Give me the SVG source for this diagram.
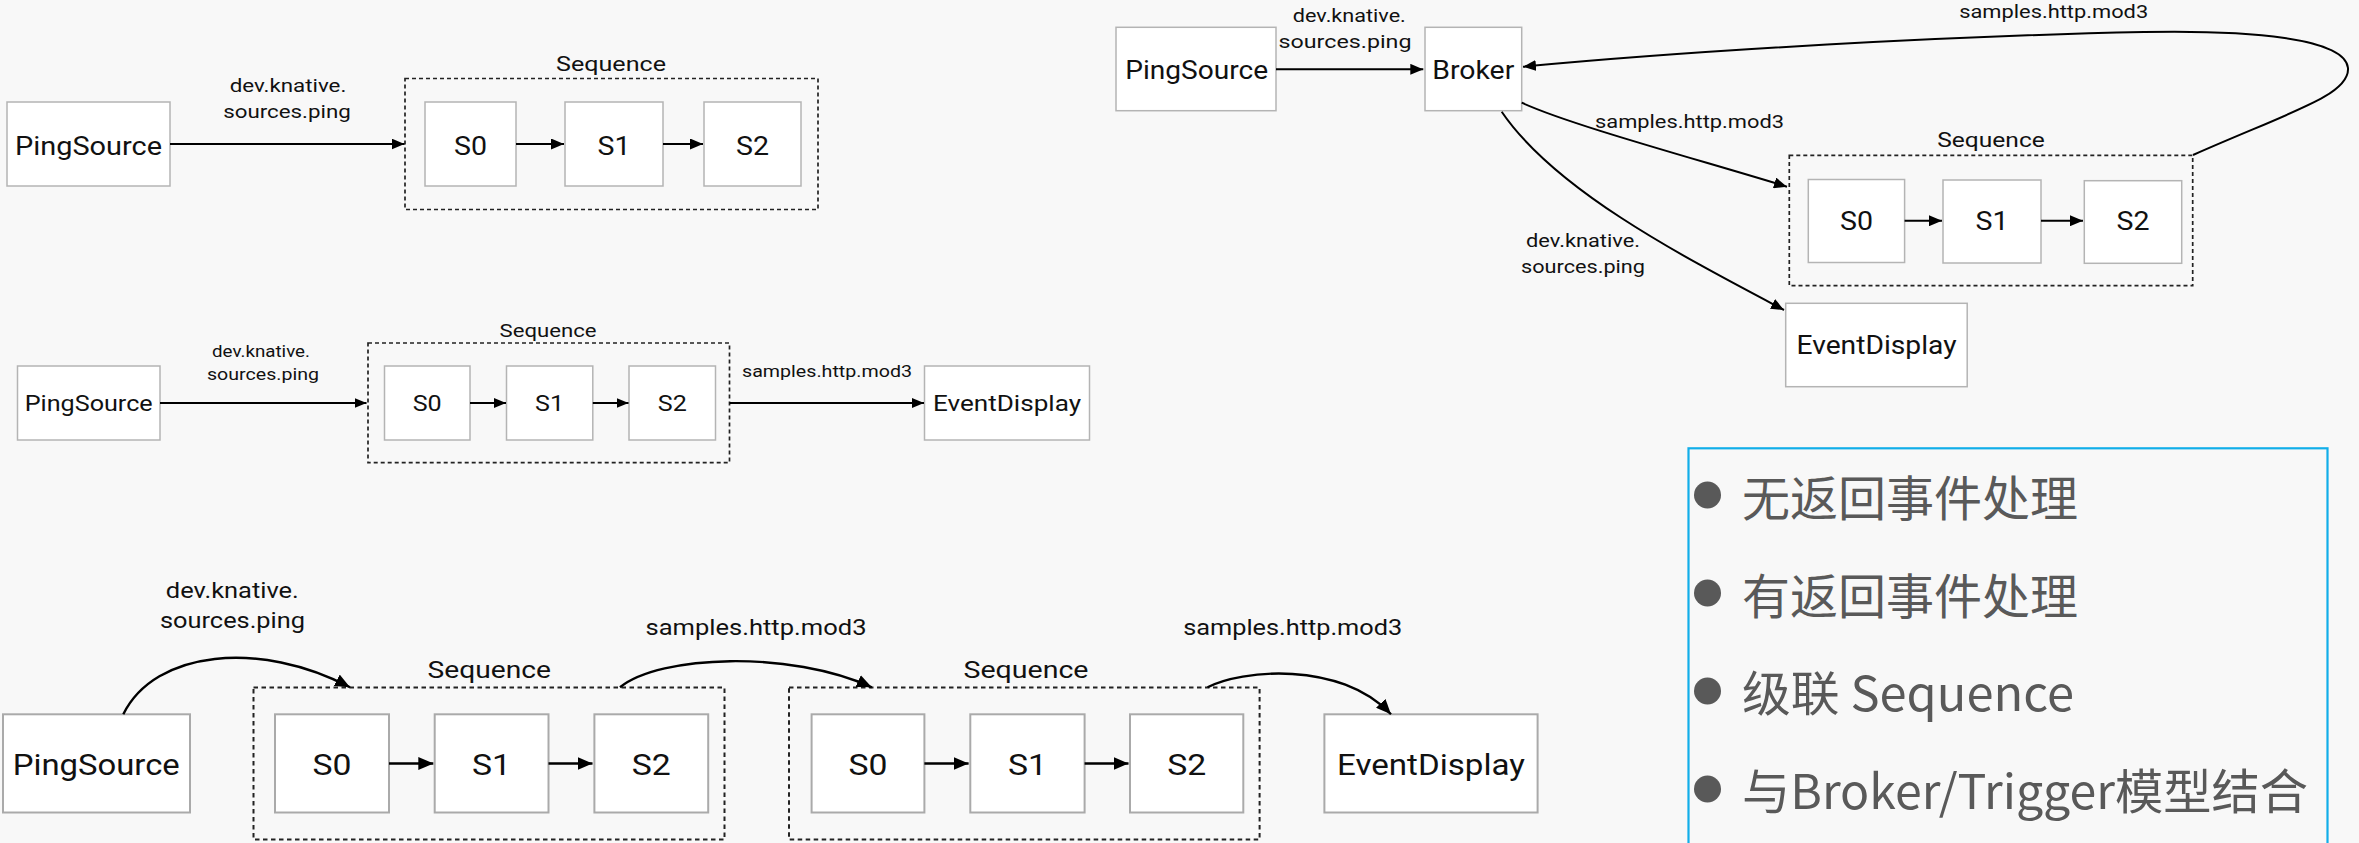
<svg xmlns="http://www.w3.org/2000/svg" width="2359" height="843" viewBox="0 0 2359 843">
<style>
.bg{fill:#f8f8f8}
.box{fill:#fff;stroke:#b4b4b4;stroke-width:1.5}
.box3{fill:#fff;stroke:#aaaaaa;stroke-width:2}
.seq{fill:none;stroke:#222;stroke-width:1.7;stroke-dasharray:4 3}
.seq3{fill:none;stroke:#222;stroke-width:2;stroke-dasharray:4.5 3.5}
.t{font-family:Roboto,"Liberation Sans",sans-serif;fill:#111;text-anchor:middle}
.c{fill:none;stroke:#000;stroke-width:2}
.c2{fill:none;stroke:#000;stroke-width:1.8}
.c3{fill:none;stroke:#000;stroke-width:2.4}
.cn{font-family:"Noto Sans CJK SC","Noto Sans",sans-serif;fill:#595959;font-size:48px}
</style>
<defs>
<marker id="mA" markerUnits="userSpaceOnUse" markerWidth="13" markerHeight="11" refX="13" refY="5.5" orient="auto"><path d="M0,0 L13,5.5 L0,11 z" fill="#000"/></marker>
<marker id="mB" markerUnits="userSpaceOnUse" markerWidth="12" markerHeight="10" refX="12" refY="5" orient="auto"><path d="M0,0 L12,5 L0,10 z" fill="#000"/></marker>
<marker id="mC" markerUnits="userSpaceOnUse" markerWidth="15" markerHeight="13" refX="15" refY="6.5" orient="auto"><path d="M0,0 L15,6.5 L0,13 z" fill="#000"/></marker>
</defs>
<rect class="bg" x="0" y="0" width="2359" height="843"/>

<!-- Diagram 1 -->
<g id="d1-ping"><rect class="box" x="7" y="102" width="163" height="84"/><text class="t" x="88.5" y="154.5" font-size="25" textLength="147" lengthAdjust="spacingAndGlyphs">PingSource</text></g>
<g id="d1-seq"><rect class="seq" x="405" y="78.5" width="413" height="131"/><text class="t" x="611" y="70.5" font-size="21" textLength="110" lengthAdjust="spacingAndGlyphs">Sequence</text></g>
<g id="d1-s0"><rect class="box" x="425" y="102" width="91" height="84"/><text class="t" x="470.5" y="154.5" font-size="25" textLength="33" lengthAdjust="spacingAndGlyphs">S0</text></g>
<g id="d1-s1"><rect class="box" x="565" y="102" width="98" height="84"/><text class="t" x="614" y="154.5" font-size="25" textLength="33" lengthAdjust="spacingAndGlyphs">S1</text></g>
<g id="d1-s2"><rect class="box" x="704" y="102" width="97" height="84"/><text class="t" x="752.5" y="154.5" font-size="25" textLength="33" lengthAdjust="spacingAndGlyphs">S2</text></g>

<!-- Diagram 2 -->
<g id="d2-ping"><rect class="box" x="17.5" y="366" width="142.5" height="74"/><text class="t" x="88.7" y="410.5" font-size="22" textLength="128" lengthAdjust="spacingAndGlyphs">PingSource</text></g>
<g id="d2-seq"><rect class="seq" x="368" y="343" width="361.5" height="119.7"/><text class="t" x="548" y="336.5" font-size="18.5" textLength="97" lengthAdjust="spacingAndGlyphs">Sequence</text></g>
<g id="d2-s0"><rect class="box" x="384.5" y="366" width="85.5" height="74"/><text class="t" x="427.2" y="410.5" font-size="22" textLength="29" lengthAdjust="spacingAndGlyphs">S0</text></g>
<g id="d2-s1"><rect class="box" x="506.5" y="366" width="86.3" height="74"/><text class="t" x="549.6" y="410.5" font-size="22" textLength="29" lengthAdjust="spacingAndGlyphs">S1</text></g>
<g id="d2-s2"><rect class="box" x="629" y="366" width="86.5" height="74"/><text class="t" x="672.3" y="410.5" font-size="22" textLength="29" lengthAdjust="spacingAndGlyphs">S2</text></g>
<g id="d2-ed"><rect class="box" x="924.5" y="366" width="165" height="74"/><text class="t" x="1007" y="410.5" font-size="22" textLength="148" lengthAdjust="spacingAndGlyphs">EventDisplay</text></g>

<!-- Diagram 3 -->
<g id="d3-ping"><rect class="box3" x="3" y="714.3" width="187" height="98.2"/><text class="t" x="96.3" y="775" font-size="29.5" textLength="167" lengthAdjust="spacingAndGlyphs">PingSource</text></g>
<g id="d3-seqA"><rect class="seq3" x="253.5" y="687.5" width="471" height="152"/><text class="t" x="489.3" y="678" font-size="24.5" textLength="123.5" lengthAdjust="spacingAndGlyphs">Sequence</text></g>
<g id="d3-a-s0"><rect class="box3" x="275" y="714.3" width="114" height="98.2"/><text class="t" x="332" y="775" font-size="29.5" textLength="39" lengthAdjust="spacingAndGlyphs">S0</text></g>
<g id="d3-a-s1"><rect class="box3" x="434.7" y="714.3" width="113.8" height="98.2"/><text class="t" x="491.6" y="775" font-size="29.5" textLength="39" lengthAdjust="spacingAndGlyphs">S1</text></g>
<g id="d3-a-s2"><rect class="box3" x="594.4" y="714.3" width="113.8" height="98.2"/><text class="t" x="651.3" y="775" font-size="29.5" textLength="39" lengthAdjust="spacingAndGlyphs">S2</text></g>
<g id="d3-seqB"><rect class="seq3" x="789" y="687.5" width="470.6" height="152"/><text class="t" x="1026" y="678" font-size="24.5" textLength="125" lengthAdjust="spacingAndGlyphs">Sequence</text></g>
<g id="d3-b-s0"><rect class="box3" x="811.6" y="714.3" width="112.8" height="98.2"/><text class="t" x="868" y="775" font-size="29.5" textLength="39" lengthAdjust="spacingAndGlyphs">S0</text></g>
<g id="d3-b-s1"><rect class="box3" x="970.3" y="714.3" width="114.3" height="98.2"/><text class="t" x="1027.5" y="775" font-size="29.5" textLength="39" lengthAdjust="spacingAndGlyphs">S1</text></g>
<g id="d3-b-s2"><rect class="box3" x="1130" y="714.3" width="113.3" height="98.2"/><text class="t" x="1186.7" y="775" font-size="29.5" textLength="39" lengthAdjust="spacingAndGlyphs">S2</text></g>
<g id="d3-ed"><rect class="box3" x="1324.4" y="714.3" width="213.2" height="98.2"/><text class="t" x="1431" y="775" font-size="29.5" textLength="188" lengthAdjust="spacingAndGlyphs">EventDisplay</text></g>

<!-- Diagram 4 -->
<g id="d4-ping"><rect class="box" x="1116" y="27.3" width="160" height="83.4"/><text class="t" x="1196.7" y="79.3" font-size="25" textLength="143" lengthAdjust="spacingAndGlyphs">PingSource</text></g>
<g id="d4-broker"><rect class="box" x="1425" y="27.3" width="96.7" height="83.4"/><text class="t" x="1473.3" y="79.3" font-size="25" textLength="82" lengthAdjust="spacingAndGlyphs">Broker</text></g>
<g id="d4-seq"><rect class="seq" x="1789.3" y="155.3" width="403.4" height="130.4"/><text class="t" x="1991" y="146.7" font-size="20.5" textLength="107.5" lengthAdjust="spacingAndGlyphs">Sequence</text></g>
<g id="d4-s0"><rect class="box" x="1808.3" y="179.5" width="96.3" height="83"/><text class="t" x="1856.5" y="230.3" font-size="25" textLength="33" lengthAdjust="spacingAndGlyphs">S0</text></g>
<g id="d4-s1"><rect class="box" x="1943" y="180" width="98" height="83"/><text class="t" x="1992" y="230.3" font-size="25" textLength="33" lengthAdjust="spacingAndGlyphs">S1</text></g>
<g id="d4-s2"><rect class="box" x="2084.3" y="180.7" width="97.4" height="82.6"/><text class="t" x="2133" y="230.3" font-size="25" textLength="33" lengthAdjust="spacingAndGlyphs">S2</text></g>
<g id="d4-ed"><rect class="box" x="1785.7" y="303.3" width="181.5" height="83.4"/><text class="t" x="1876.5" y="354" font-size="25" textLength="160" lengthAdjust="spacingAndGlyphs">EventDisplay</text></g>

<!-- Connectors -->
<g id="connectors">
<line class="c" x1="170" y1="144" x2="404.5" y2="144" marker-end="url(#mA)"/>
<line class="c" x1="516" y1="144" x2="564" y2="144" marker-end="url(#mA)"/>
<line class="c" x1="663" y1="144" x2="703" y2="144" marker-end="url(#mA)"/>
<text class="t" x="288" y="92.3" font-size="19" textLength="116.7" lengthAdjust="spacingAndGlyphs">dev.knative.</text>
<text class="t" x="287" y="118.3" font-size="19" textLength="127.7" lengthAdjust="spacingAndGlyphs">sources.ping</text>

<line class="c2" x1="160" y1="403" x2="366.5" y2="403" marker-end="url(#mB)"/>
<line class="c2" x1="470" y1="403" x2="506" y2="403" marker-end="url(#mB)"/>
<line class="c2" x1="592.8" y1="403" x2="628.5" y2="403" marker-end="url(#mB)"/>
<line class="c2" x1="729.6" y1="403" x2="924" y2="403" marker-end="url(#mB)"/>
<text class="t" x="261" y="356.5" font-size="16.5" textLength="98" lengthAdjust="spacingAndGlyphs">dev.knative.</text>
<text class="t" x="263" y="380" font-size="16.5" textLength="112" lengthAdjust="spacingAndGlyphs">sources.ping</text>
<text class="t" x="827" y="376.5" font-size="16.5" textLength="170" lengthAdjust="spacingAndGlyphs">samples.http.mod3</text>

<path class="c3" d="M123.3,714.3 C155,650 260,640 350,687.3" marker-end="url(#mC)"/>
<path class="c3" d="M620,687.3 C660,655 790,650 871.8,687.3" marker-end="url(#mC)"/>
<path class="c3" d="M1207.6,687.3 C1240,670 1340,660 1391,714.3" marker-end="url(#mC)"/>
<line class="c3" x1="389" y1="763.5" x2="433.3" y2="763.5" marker-end="url(#mC)"/>
<line class="c3" x1="548.5" y1="763.5" x2="592.5" y2="763.5" marker-end="url(#mC)"/>
<line class="c3" x1="924.4" y1="763.5" x2="968.6" y2="763.5" marker-end="url(#mC)"/>
<line class="c3" x1="1084.6" y1="763.5" x2="1128.5" y2="763.5" marker-end="url(#mC)"/>
<text class="t" x="232.3" y="598.3" font-size="22" textLength="133" lengthAdjust="spacingAndGlyphs">dev.knative.</text>
<text class="t" x="232.5" y="628.3" font-size="22" textLength="145" lengthAdjust="spacingAndGlyphs">sources.ping</text>
<text class="t" x="756" y="635" font-size="22" textLength="221" lengthAdjust="spacingAndGlyphs">samples.http.mod3</text>
<text class="t" x="1292.7" y="635" font-size="22" textLength="219" lengthAdjust="spacingAndGlyphs">samples.http.mod3</text>

<line class="c" x1="1276" y1="69.3" x2="1423.3" y2="69.3" marker-end="url(#mA)"/>
<line class="c" x1="1904.6" y1="220.7" x2="1942" y2="220.7" marker-end="url(#mA)"/>
<line class="c" x1="2041" y1="220.7" x2="2083" y2="220.7" marker-end="url(#mA)"/>
<path class="c" d="M1521.7,102.7 C1570,125 1700,160 1787,186.7" marker-end="url(#mA)"/>
<path class="c" d="M1501.7,111.7 C1555,190 1680,255 1784,310" marker-end="url(#mA)"/>
<path class="c" d="M2193,155 C2290,112 2350,95 2348,68 C2345,38 2250,30 2144,32 C1950,36 1700,50 1523,66.7" marker-end="url(#mA)"/>
<text class="t" x="1349.3" y="22.3" font-size="19" textLength="113" lengthAdjust="spacingAndGlyphs">dev.knative.</text>
<text class="t" x="1345" y="48.3" font-size="19" textLength="133" lengthAdjust="spacingAndGlyphs">sources.ping</text>
<text class="t" x="1689.5" y="128.3" font-size="19" textLength="189" lengthAdjust="spacingAndGlyphs">samples.http.mod3</text>
<text class="t" x="1583" y="246.7" font-size="19" textLength="114" lengthAdjust="spacingAndGlyphs">dev.knative.</text>
<text class="t" x="1583" y="273.3" font-size="19" textLength="124" lengthAdjust="spacingAndGlyphs">sources.ping</text>
<text class="t" x="2053.7" y="18.3" font-size="19" textLength="189" lengthAdjust="spacingAndGlyphs">samples.http.mod3</text>
</g>

<!-- Summary box -->
<g id="summary">
<rect x="1688.5" y="448.3" width="639" height="410" fill="none" stroke="#12aee9" stroke-width="2.2"/>
<circle cx="1707.5" cy="495" r="13.5" fill="#595959"/>
<circle cx="1707.5" cy="593" r="13.5" fill="#595959"/>
<circle cx="1707.5" cy="691" r="13.5" fill="#595959"/>
<circle cx="1707.5" cy="789" r="13.5" fill="#595959"/>
<text class="cn" x="1742" y="516">无返回事件处理</text>
<text class="cn" x="1742" y="613.5">有返回事件处理</text>
<text class="cn" x="1742" y="711" textLength="332" lengthAdjust="spacingAndGlyphs">级联 Sequence</text>
<text class="cn" x="1742" y="808.5" textLength="566" lengthAdjust="spacingAndGlyphs">与Broker/Trigger模型结合</text>
</g>
</svg>
